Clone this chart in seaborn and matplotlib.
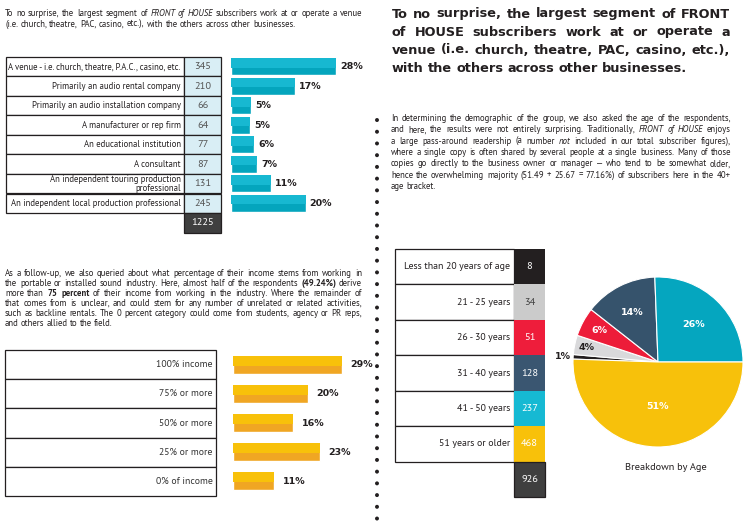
import re
import numpy as np
import pandas as pd
import seaborn as sns
import matplotlib.pyplot as plt
from matplotlib import font_manager
from matplotlib.patches import Rectangle

# ---- data ----
business_labels = [
    "A venue - i.e. church, theatre, P.A.C., casino, etc.",
    "Primarily an audio rental company",
    "Primarily an audio installation company",
    "A manufacturer or rep firm",
    "An educational institution",
    "A consultant",
    "An independent touring production\nprofessional",
    "An independent local production professional",
]
business_counts = [345, 210, 66, 64, 77, 87, 131, 245]
business_total = 1225

income_labels = ["100% income", "75% or more", "50% or more", "25% or more", "0% of income"]
income_pct = [29, 20, 16, 23, 11]

age_labels = [
    "Less than 20 years of age",
    "21 - 25 years",
    "26 - 30 years",
    "31 - 40 years",
    "41 - 50 years",
    "51 years or older",
]
age_counts = [8, 34, 51, 128, 237, 468]
age_total = 926

top_note = [
    "To no surprise, the largest segment of _FRONT of HOUSE_ subscribers work at or operate a venue",
    "(i.e. church, theatre, PAC, casino, etc.), with the others across other businesses.",
]
income_note = [
    "As a follow-up, we also queried about what percentage of their income stems from working in",
    "the portable or installed sound industry. Here, almost half of the respondents *(49.24%)* derive",
    "more than *75 percent* of their income from working in the industry. Where the remainder of",
    "that comes from is unclear, and could stem for any number of unrelated or related activities,",
    "such as backline rentals. The 0 percent category could come from students, agency or PR reps,",
    "and others allied to the field.",
]
headline = [
    "To no surprise, the largest segment of FRONT",
    "of HOUSE subscribers work at or operate a",
    "venue (i.e. church, theatre, PAC, casino, etc.),",
    "with the others across other businesses.",
]
age_note = [
    "In determining the demographic of the group, we also asked the age of the respondents,",
    "and here, the results were not entirely surprising. Traditionally, _FRONT of HOUSE_ enjoys",
    "a large pass-around readership (a number _not_ included in our total subscriber figures),",
    "where a single copy is often shared by several people at a single business. Many of those",
    "copies go directly to the business owner or manager \u2014 who tend to be somewhat older,",
    "hence the overwhelming majority (51.49 + 25.67 = 77.16%) of subscribers here in the 40+",
    "age bracket.",
]

# ---- styling ----
W, H = 751, 529
INK = "#231f20"
BLUE_LIGHT, BLUE_DARK = "#17b8d1", "#04a5bd"
GOLD_LIGHT, GOLD_DARK = "#f8c10a", "#f0a623"
CELL_BLUE = "#d9eef5"
TOTAL_GRAY = "#3f3f3f"
age_cell_colors = ["#231f20", "#cbcbcb", "#ee1d3b", "#3a5671", "#16b9d3", "#f8c10a"]
age_text_colors = ["white", "#444444", "white", "white", "white", "white"]
pie_colors = ["#231f20", "#d9d9db", "#ed1c39", "#36536c", "#05a6bf", "#f7c10b"]
pie_label_colors = [INK, INK, "white", "white", "white", "white"]
pie_label_dist = [1.12, 0.86, 0.78, 0.66, 0.61, 0.52]


def usable(family):
    # the font must exist and its measured width must agree with what gets drawn
    try:
        font_manager.findfont(font_manager.FontProperties(family=family), fallback_to_default=False)
    except ValueError:
        return False
    f = plt.figure(figsize=(8, 1), dpi=100)
    t = f.text(0.01, 0.5, "Hamburgefonstiv HAMBURG 2017", fontsize=20, family=family, color="black")
    f.canvas.draw()
    img = np.asarray(f.canvas.buffer_rgba())[:, :, 0]
    cols = np.where((img < 128).any(axis=0))[0]
    ratio = (cols.max() - cols.min() + 1) / t.get_window_extent().width if len(cols) else 0
    plt.close(f)
    return 0.93 < ratio < 1.04


BODY = next((f for f in ["PT Sans", "Fira Sans"] if usable(f)), "Liberation Sans")
HEAVY = "DejaVu Sans"

sns.set_theme(style="white")
plt.rcParams["font.family"] = [BODY, "DejaVu Sans"]

fig = plt.figure(figsize=(W / 100, H / 100), dpi=100)
fig.patch.set_facecolor("white")
rend = fig.canvas.get_renderer()


def box(l, t, w, h):
    return fig.add_axes([l / W, 1 - (t + h) / H, w / W, h / H])


canvas = box(0, 0, W, H)
canvas.set_xlim(0, W)
canvas.set_ylim(H, 0)
canvas.set_axis_off()


def parse(line):
    words = [[]]
    for seg in re.split(r"(\*[^*]+\*|_[^_]+_)", line):
        if not seg:
            continue
        style = "normal"
        if seg[0] == "*":
            seg, style = seg[1:-1], "bold"
        elif seg[0] == "_":
            seg, style = seg[1:-1], "italic"
        for i, p in enumerate(seg.split(" ")):
            if i:
                words.append([])
            if p:
                words[-1].append((p, style))
    return [w for w in words if w]


def set_lines(lines, y0, lh, size, family, bold):
    out = []
    for n, line in enumerate(lines):
        rows = []
        for word in parse(line):
            row = []
            for txt, st in word:
                t = canvas.text(0, y0 + n * lh, txt, fontsize=size, family=family, color=INK,
                                fontweight="bold" if (bold or st == "bold") else "normal",
                                fontstyle="italic" if st == "italic" else "normal",
                                va="baseline", ha="left")
                row.append((t, t.get_window_extent(rend).width))
            rows.append(row)
        out.append(rows)
    return out


def paragraph(lines, x0, x1, y0, lh, size, family=BODY, bold=False, space=0.25):
    # size the type so that the longest line fills the column with normal spacing
    trial = set_lines(lines, y0, lh, size, family, bold)
    nat = 0
    for rows in trial:
        w = sum(wd for row in rows for _, wd in row) + size * space * 100 / 72 * (len(rows) - 1)
        nat = max(nat, w)
        for row in rows:
            for t, _ in row:
                t.remove()
    size = size * (x1 - x0) / nat * 0.99
    laid = set_lines(lines, y0, lh, size, family, bold)
    sp = size * space * 100 / 72
    for n, rows in enumerate(laid):
        widths = [sum(wd for _, wd in row) for row in rows]
        gap = sp
        if n < len(laid) - 1 and len(rows) > 1:
            gap = (x1 - x0 - sum(widths)) / (len(rows) - 1)
        x = x0
        for row in rows:
            for t, wd in row:
                t.set_x(x)
                x += wd
            x += gap


def fit_all(texts, maxw):
    widest = max(t.get_window_extent(rend).width for t in texts)
    if widest > maxw:
        for t in texts:
            t.set_fontsize(t.get_fontsize() * maxw / widest)


def two_tone(ax, light, frac):
    for p in list(ax.patches):
        ax.add_patch(Rectangle((p.get_x(), p.get_y()), p.get_width(), p.get_height() * frac,
                               facecolor=light, linewidth=0))


# ---- text blocks ----
paragraph(top_note, 5, 362, 16, 11, 7)
paragraph(income_note, 5, 362, 276, 10, 7)
paragraph(headline, 392, 730, 17.5, 18, 9.5, family=HEAVY, bold=True, space=0.33)
paragraph(age_note, 391, 731, 121, 11.3, 7)

# ---- business table ----
nb = len(business_labels)
tb = box(6, 57, 215, 175.5)
tb.set_xlim(0, 1)
tb.set_ylim(nb + 0.5, -0.5)
tb.set_axis_off()
split = 178 / 215
labels = []
for i, (lab, cnt) in enumerate(zip(business_labels, business_counts)):
    tb.add_patch(Rectangle((0, i - 0.5), split, 1, facecolor="white", edgecolor=INK, lw=0.9, clip_on=False))
    tb.add_patch(Rectangle((split, i - 0.5), 1 - split, 1, facecolor=CELL_BLUE, edgecolor=INK, lw=0.9, clip_on=False))
    labels.append(tb.text(split - 0.015, i, lab, ha="right", va="center", fontsize=7.2,
                          color=INK, linespacing=0.95))
    tb.text(split + (1 - split) / 2, i, str(cnt), ha="center", va="center", fontsize=7.5, color="#555555")
fit_all(labels, 174)
tb.add_patch(Rectangle((split, nb - 0.5), 1 - split, 1, facecolor=TOTAL_GRAY, edgecolor=INK, lw=0.9, clip_on=False))
tb.text(split + (1 - split) / 2, nb, str(business_total), ha="center", va="center", fontsize=7.5, color="white")

bb = box(231, 57, 140, 175.5)
df_b = pd.DataFrame({"label": business_labels, "count": business_counts})
sns.barplot(data=df_b, x="count", y="label", color=BLUE_DARK, saturation=1, width=0.85,
            errorbar=None, orient="h", ax=bb)
two_tone(bb, BLUE_LIGHT, 0.56)
for p, cnt in zip(bb.patches[:nb], business_counts):
    bb.annotate(f"{round(cnt / business_total * 100)}%", (p.get_width(), p.get_y() + p.get_height() / 2),
                xytext=(3, 0), textcoords="offset points", va="center", ha="left",
                fontsize=6.8, fontweight="bold", family=HEAVY, color=INK)
bb.set_xlim(0, 460)
bb.set_ylim(nb + 0.5, -0.5)
bb.set_axis_off()

# ---- income table ----
ni = len(income_labels)
ti = box(5, 350, 211, 146)
ti.set_xlim(0, 1)
ti.set_ylim(ni - 0.5, -0.5)
ti.set_axis_off()
for i, lab in enumerate(income_labels):
    ti.add_patch(Rectangle((0, i - 0.5), 1, 1, facecolor="white", edgecolor=INK, lw=0.9, clip_on=False))
    ti.text(0.985, i, lab, ha="right", va="center", fontsize=7, color="#333333")

bi = box(233, 350, 130, 146)
df_i = pd.DataFrame({"label": income_labels, "pct": income_pct})
sns.barplot(data=df_i, x="pct", y="label", color=GOLD_DARK, saturation=1, width=0.62,
            errorbar=None, orient="h", ax=bi)
two_tone(bi, GOLD_LIGHT, 0.55)
for p, v in zip(bi.patches[:ni], income_pct):
    bi.annotate(f"{v}%", (p.get_width(), p.get_y() + p.get_height() / 2),
                xytext=(6, 0), textcoords="offset points", va="center", ha="left",
                fontsize=6.8, fontweight="bold", family=HEAVY, color=INK)
bi.set_xlim(0, 34.5)
bi.set_ylim(ni - 0.5, -0.5)
bi.set_axis_off()

# ---- age table ----
na = len(age_labels)
ta = box(395, 249, 150, 248)
ta.set_xlim(0, 1)
ta.set_ylim(na + 0.5, -0.5)
ta.set_axis_off()
asplit = 119 / 150
age_texts = []
for i, (lab, cnt) in enumerate(zip(age_labels, age_counts)):
    ta.add_patch(Rectangle((0, i - 0.5), asplit, 1, facecolor="white", edgecolor=INK, lw=0.9, clip_on=False))
    ta.add_patch(Rectangle((asplit, i - 0.5), 1 - asplit, 1, facecolor=age_cell_colors[i], lw=0, clip_on=False))
    age_texts.append(ta.text(asplit - 0.025, i, lab, ha="right", va="center", fontsize=7.5, color=INK))
    ta.text(asplit + (1 - asplit) / 2, i, str(cnt), ha="center", va="center", fontsize=7.5,
            color=age_text_colors[i])
fit_all(age_texts, 106)
ta.add_patch(Rectangle((asplit, na - 0.5), 1 - asplit, 1, facecolor=TOTAL_GRAY, edgecolor=INK, lw=0.9, clip_on=False))
ta.text(asplit + (1 - asplit) / 2, na, str(age_total), ha="center", va="center", fontsize=7.5, color="white")

# ---- pie ----
pa = box(658 - 106.25, 362 - 106.25, 212.5, 212.5)
start = 360 * (age_total - age_counts[-1]) / age_total
wedges, _ = pa.pie(age_counts, colors=pie_colors, startangle=start, counterclock=False, radius=1,
                   wedgeprops=dict(edgecolor="white", linewidth=0.8))
for w, cnt, d, c in zip(wedges, age_counts, pie_label_dist, pie_label_colors):
    ang = np.deg2rad((w.theta1 + w.theta2) / 2)
    pa.text(d * np.cos(ang), d * np.sin(ang), f"{round(cnt / age_total * 100)}%", ha="center", va="center",
            fontsize=6.8, fontweight="bold", family=HEAVY, color=c)
pa.set_xlim(-1.25, 1.25)
pa.set_ylim(-1.25, 1.25)
pa.set_aspect("equal")
canvas.text(666, 468, "Breakdown by Age", ha="center", va="center", fontsize=7.5, color=INK)

# ---- dotted divider ----
canvas.plot([377, 377], [120, 527], color=INK, lw=2.9, linestyle=(0, (0.01, 2.9)),
            dash_capstyle="round")

fig.savefig("out.png", dpi=100, facecolor="white")
